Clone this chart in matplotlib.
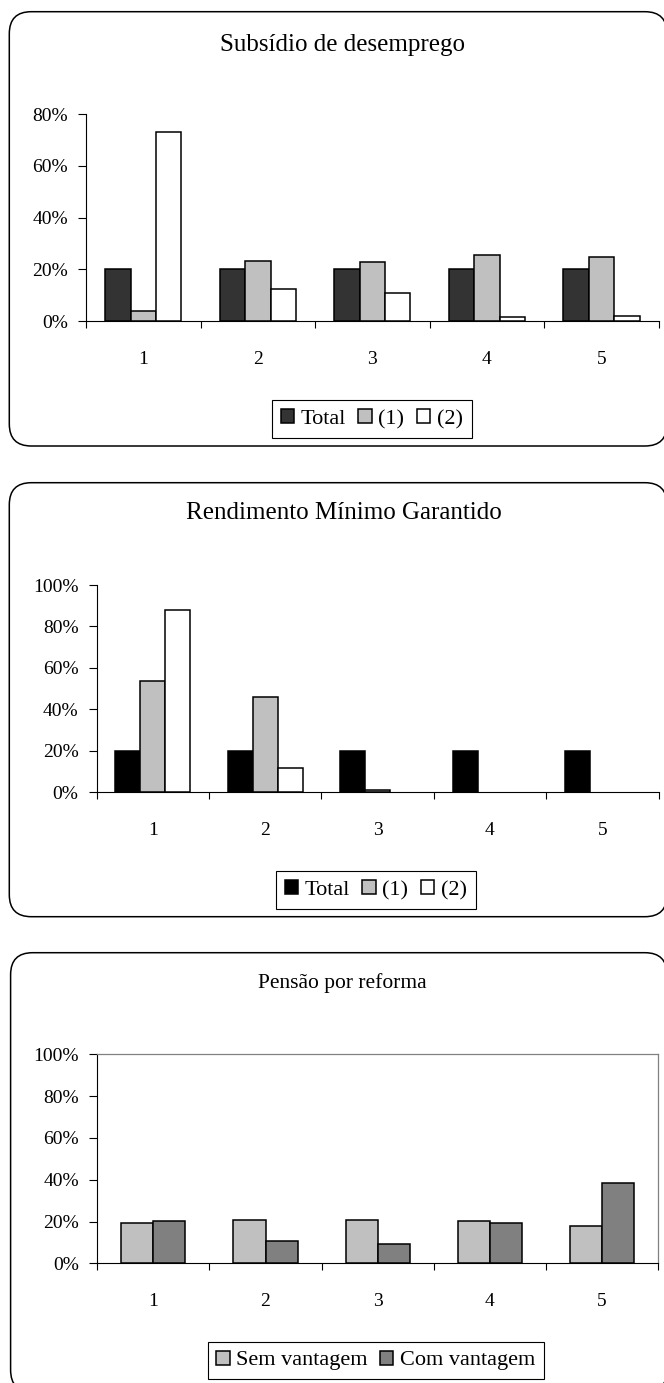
import matplotlib
matplotlib.use("Agg")
import matplotlib.pyplot as plt
from matplotlib.patches import FancyBboxPatch, Patch
import numpy as np

plt.rcParams['font.family'] = ['Liberation Serif', 'DejaVu Serif']

W, H, DPI = 664, 1383, 100

categories = ["1", "2", "3", "4", "5"]

# Subsídio de desemprego
sub_title = "Subsídio de desemprego"
sub_labels = ["Total", "(1)", "(2)"]
sub_total = [20, 20, 20, 20, 20]
sub_1 = [4.0, 23.3, 22.7, 25.5, 24.8]
sub_2 = [73.0, 12.4, 11.0, 1.4, 2.1]
sub_ticks = [0, 20, 40, 60, 80]

# Rendimento Mínimo Garantido
rmg_title = "Rendimento Mínimo Garantido"
rmg_labels = ["Total", "(1)", "(2)"]
rmg_total = [20, 20, 20, 20, 20]
rmg_1 = [53.8, 46.1, 1.0, 0, 0]
rmg_2 = [87.9, 11.9, 0, 0, 0]
rmg_ticks = [0, 20, 40, 60, 80, 100]

# Pensão por reforma
pen_title = "Pensão por reforma"
pen_labels = ["Sem vantagem", "Com vantagem"]
pen_sem = [19.4, 20.9, 20.9, 20.2, 17.8]
pen_com = [20.2, 10.9, 9.3, 19.4, 38.6]
pen_ticks = [0, 20, 40, 60, 80, 100]

fig = plt.figure(figsize=(W / DPI, H / DPI), dpi=DPI)
fig.patch.set_facecolor('white')

# Background layer in pixel units for the rounded chart frames
bg = fig.add_axes([0, 0, 1, 1])
bg.set_xlim(0, W)
bg.set_ylim(H, 0)
bg.axis('off')
bg.set_zorder(-1)


def frame(left, top, right, bottom):
    box = FancyBboxPatch((left, top), right - left, bottom - top,
                         boxstyle="round,pad=0,rounding_size=22",
                         facecolor='white', edgecolor='black',
                         linewidth=1.1, clip_on=False)
    bg.add_patch(box)


def px_axes(left, top, right, bottom):
    return fig.add_axes([left / W, 1 - bottom / H,
                         (right - left) / W, (bottom - top) / H])


def panel(rect, series, colors, labels, ticks, title, title_xy, title_size,
          legend_xy, boxed=False):
    ax = px_axes(*rect)
    n = len(series)
    w = 1 / (n + 1.5)
    x = np.arange(1, len(categories) + 1)
    handles = []
    for i, (vals, c) in enumerate(zip(series, colors)):
        bars = ax.bar(x + (i - (n - 1) / 2) * w, vals, width=w, color=c,
                      edgecolor='black', linewidth=1.1, zorder=3)
        # empty categories get no bar outline on the axis
        for b, v in zip(bars, vals):
            if v == 0:
                b.set_visible(False)
        handles.append(Patch(facecolor=c, edgecolor='black', linewidth=1.1))
    ax.set_xlim(0.5, len(categories) + 0.5)
    ax.set_ylim(0, ticks[-1])
    ax.set_yticks(ticks)
    ax.set_yticklabels([f"{t}%" for t in ticks])
    ax.set_xticks(x)
    ax.set_xticklabels(categories)
    ax.set_xticks(np.arange(0.5, len(categories) + 0.6, 1), minor=True)
    ax.tick_params(axis='x', which='major', length=0, pad=21.5, labelsize=14)
    ax.tick_params(axis='x', which='minor', length=4.8, width=0.8,
                   direction='out', color='black')
    ax.tick_params(axis='y', length=5.5, width=0.8, pad=7.6, labelsize=14)
    ax.tick_params(axis='y', which='minor', length=0)
    for s in ('left', 'bottom'):
        ax.spines[s].set_color('black')
        ax.spines[s].set_linewidth(0.8)
    for s in ('top', 'right'):
        if boxed:
            ax.spines[s].set_color('#808080')
            ax.spines[s].set_linewidth(0.9)
        else:
            ax.spines[s].set_visible(False)
    ax.set_facecolor('none')

    fig.text(title_xy[0] / W, 1 - title_xy[1] / H, title,
             ha='center', va='center', fontsize=title_size)

    leg = fig.legend(handles, labels, loc='center',
                     bbox_to_anchor=(legend_xy[0] / W, 1 - legend_xy[1] / H),
                     ncol=n, frameon=True, fancybox=False, fontsize=16,
                     handlelength=0.6, handleheight=0.6, handletextpad=0.3,
                     columnspacing=0.55, borderpad=0.4, borderaxespad=0)
    leg.get_frame().set_edgecolor('black')
    leg.get_frame().set_linewidth(0.8)
    leg.get_frame().set_alpha(1)
    return ax


frame(9.3, 11.7, 667, 446)
frame(9.3, 482.7, 667, 916.7)
frame(10.6, 952.7, 667, 1392)

panel((86, 114.3, 658.6, 321), [sub_total, sub_1, sub_2],
      ['#333333', '#c0c0c0', 'white'], sub_labels, sub_ticks,
      sub_title, (343, 45), 18, (371.8, 419.3))

panel((96.6, 585, 658.6, 792.3), [rmg_total, rmg_1, rmg_2],
      ['black', '#c0c0c0', 'white'], rmg_labels, rmg_ticks,
      rmg_title, (344, 513), 18, (375.8, 890.3))

panel((97.4, 1054.3, 657.8, 1263.3), [pen_sem, pen_com],
      ['#c0c0c0', '#808080'], pen_labels, pen_ticks,
      pen_title, (342.4, 983.3), 15.5, (375.9, 1360.5), boxed=True)

fig.savefig("out.png", dpi=DPI, facecolor='white')
